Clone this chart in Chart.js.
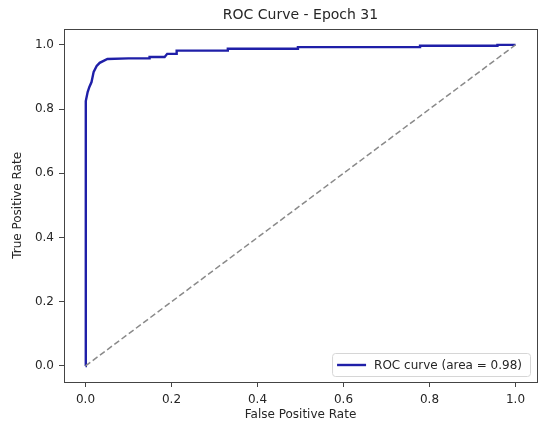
<!DOCTYPE html>
<html>
<head>
<meta charset="utf-8">
<script src="https://cdn.jsdelivr.net/npm/chart.js@4.4.1/dist/chart.umd.min.js"></script>
<style>
  html, body { margin: 0; padding: 0; background: #fff; }
  #wrap { width: 550px; height: 434px; }
</style>
</head>
<body>
<div id="wrap"><canvas id="rocChart" width="550" height="434"></canvas></div>
<script>
// ROC points (false positive rate / true positive rate)
const fpr = [0, 0, 0.001, 0.001, 0.005, 0.009, 0.014, 0.019, 0.026, 0.033, 0.051, 0.100, 0.149, 0.149,
             0.184, 0.190, 0.212, 0.212, 0.331, 0.331, 0.494, 0.494, 0.778, 0.778, 0.958, 0.958, 1.0];
const tpr = [0, 0.58, 0.58, 0.825, 0.853, 0.869, 0.884, 0.916, 0.934, 0.944, 0.956, 0.958, 0.958, 0.962,
             0.962, 0.972, 0.972, 0.982, 0.982, 0.988, 0.988, 0.993, 0.993, 0.997, 0.997, 1.0, 1.0];
const chanceX = [0, 1];
const chanceY = [0, 1];
const tickVals = [0, 0.2, 0.4, 0.6, 0.8, 1.0];
const rocLabel = 'ROC curve (area = 0.98)';

const textColor = '#262626';
const fontFamily = '"DejaVu Sans", sans-serif';

// matplotlib-like frame around the axes
const framePlugin = {
    id: 'frame',
    afterDraw(chart) {
        const a = chart.chartArea;
        const ctx = chart.ctx;
        ctx.save();
        ctx.strokeStyle = '#444';
        ctx.lineWidth = 1;
        ctx.strokeRect(Math.round(a.left) + 0.5, Math.round(a.top) + 0.5,
                       Math.round(a.right - a.left), Math.round(a.bottom - a.top));
        ctx.restore();
    }
};

// legend box in the lower right corner
const legendPlugin = {
    id: 'cornerLegend',
    afterDraw(chart) {
        const ds = chart.data.datasets[0];
        const a = chart.chartArea;
        const ctx = chart.ctx;
        ctx.save();
        ctx.font = '12px ' + fontFamily;
        const tw = ctx.measureText(ds.label).width;
        const w = tw + 50, h = 23;
        const x = a.right - 7 - w, y = a.bottom - 6 - h;
        ctx.fillStyle = 'rgba(255,255,255,0.8)';
        ctx.strokeStyle = '#d6d6d6';
        ctx.lineWidth = 1;
        ctx.beginPath();
        ctx.roundRect(x + 0.5, y + 0.5, w, h, 3);
        ctx.fill();
        ctx.stroke();
        ctx.strokeStyle = ds.borderColor;
        ctx.lineWidth = ds.borderWidth;
        ctx.beginPath();
        ctx.moveTo(x + 5, y + h / 2 + 0.5);
        ctx.lineTo(x + 34, y + h / 2 + 0.5);
        ctx.stroke();
        ctx.fillStyle = textColor;
        ctx.textBaseline = 'middle';
        ctx.fillText(ds.label, x + 42, y + h / 2 + 1);
        ctx.restore();
    }
};

function fixedTicks(scale) {
    scale.ticks = tickVals.map(v => ({ value: v }));
}

const ctx = document.getElementById('rocChart').getContext('2d');
new Chart(ctx, {
    type: 'scatter',
    data: {
        datasets: [
            {
                label: rocLabel,
                data: fpr.map((v, i) => ({ x: v, y: tpr[i] })),
                showLine: true,
                borderColor: '#1f1fa8',
                borderWidth: 2.4,
                pointRadius: 0,
                tension: 0,
                order: 1
            },
            {
                label: 'chance',
                data: chanceX.map((v, i) => ({ x: v, y: chanceY[i] })),
                showLine: true,
                borderColor: '#8a8a8a',
                borderWidth: 1.5,
                borderDash: [6, 3],
                pointRadius: 0,
                order: 0
            }
        ]
    },
    options: {
        responsive: false,
        animation: false,
        devicePixelRatio: 1,
        layout: { padding: { left: 0, right: 13, top: 0, bottom: 0 } },
        plugins: {
            legend: { display: false },
            tooltip: { enabled: false },
            title: {
                display: true,
                fullSize: false,
                text: 'ROC Curve - Epoch 31',
                color: textColor,
                font: { family: fontFamily, size: 14, weight: 'normal' },
                padding: { top: 7, bottom: 5 }
            }
        },
        scales: {
            x: {
                type: 'linear',
                min: -0.05,
                max: 1.05,
                afterBuildTicks: fixedTicks,
                afterFit: s => { s.height = 52; },
                grid: { drawOnChartArea: false, drawTicks: true, tickLength: 5, color: '#444' },
                border: { display: false },
                ticks: {
                    color: textColor,
                    padding: 6,
                    maxRotation: 0,
                    font: { family: fontFamily, size: 12 },
                    callback: v => v.toFixed(1)
                },
                title: {
                    display: true,
                    text: 'False Positive Rate',
                    color: textColor,
                    font: { family: fontFamily, size: 12 },
                    padding: { top: 0, bottom: 12 }
                }
            },
            y: {
                type: 'linear',
                min: -0.05,
                max: 1.05,
                afterBuildTicks: fixedTicks,
                afterFit: s => { s.width = 64; },
                grid: { drawOnChartArea: false, drawTicks: true, tickLength: 5, color: '#444' },
                border: { display: false },
                ticks: {
                    color: textColor,
                    padding: 5,
                    font: { family: fontFamily, size: 12 },
                    callback: v => v.toFixed(1)
                },
                title: {
                    display: true,
                    text: 'True Positive Rate',
                    color: textColor,
                    font: { family: fontFamily, size: 12 },
                    padding: { top: 11, bottom: 0 }
                }
            }
        }
    },
    plugins: [framePlugin, legendPlugin]
});
</script>
</body>
</html>
